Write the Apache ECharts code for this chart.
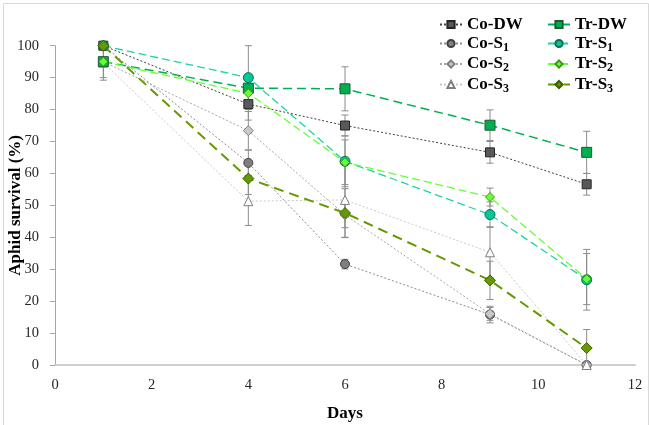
<!DOCTYPE html>
<html>
<head>
<meta charset="utf-8">
<script src="https://cdn.jsdelivr.net/npm/echarts@6/dist/echarts.min.js"></script>
<style>
html,body{margin:0;padding:0;background:#fff;}
#main{width:649px;height:425px;}
</style>
</head>
<body>
<div id="main"></div>
<script>
// ---- data ----
var days = [1, 4, 6, 9, 11];
var seriesNames = ['Co-DW', 'Co-S1', 'Co-S2', 'Co-S3', 'Tr-DW', 'Tr-S1', 'Tr-S2', 'Tr-S3'];
var coDW = [100, 81.7, 75.0, 66.6, 56.6];
var coS1 = [100, 63.3, 31.6, 15.8, 0];
var coS2 = [95, 73.4, 47.0, 16.0, 0];
var coS3 = [94.7, 51.3, 51.7, 35.3, 0];
var trDW = [95, 86.7, 86.5, 75.1, 66.6];
var trS1 = [100, 90.0, 63.8, 47.1, 26.7];
var trS2 = [95, 85.1, 63.5, 52.6, 26.9];
var trS3 = [100, 58.4, 47.6, 26.5, 5.3];
var errCoDW = [0, 5, 3.3, 3.4, 3.4];
var errCoS1 = [0, 4, 1.5, 2.6, 0];
var errCoS2 = [5, 6, 4, 2, 0];
var errCoS3 = [5.5, 7.6, 11.8, 8, 0];
var errTrDW = [0, 0, 6.9, 4.8, 6.6];
var errTrS1 = [0, 10, 8, 4, 9.5];
var errTrS2 = [0, 5, 7, 2.8, 8];
var errTrS3 = [0, 5, 7.6, 6, 5.8];
var yTicks = [0, 10, 20, 30, 40, 50, 60, 70, 80, 90, 100];
var xTicks = [0, 2, 4, 6, 8, 10, 12];

var values = [coDW, coS1, coS2, coS3, trDW, trS1, trS2, trS3];
var errs = [errCoDW, errCoS1, errCoS2, errCoS3, errTrDW, errTrS1, errTrS2, errTrS3];

var styles = [
  {line:'#404040', fill:'#595959', border:'#262626', sym:'rect', size:9, type:[2,2], w:1},
  {line:'#8c8c8c', fill:'#7f7f7f', border:'#404040', sym:'circle', size:9, type:[2,2], w:1},
  {line:'#a6a6a6', fill:'#c8c8c8', border:'#7f7f7f', sym:'diamond', size:10, type:[2,2], w:1},
  {line:'#c8c8c8', fill:'#ffffff', border:'#7f7f7f', sym:'triangle', size:9, type:[2,2], w:1},
  {line:'#00b050', fill:'#00b050', border:'#1f5a32', sym:'rect', size:10, type:[9,5], w:1.5},
  {line:'#1fd3a8', fill:'#00c896', border:'#0d6b57', sym:'circle', size:10, type:[8,4], w:1.3},
  {line:'#66ff33', fill:'#66ff33', border:'#3a9a10', sym:'diamond', size:9, type:[8,4], w:1.3},
  {line:'#669900', fill:'#669900', border:'#3d5c00', sym:'diamond', size:11, type:[10,6], w:2}
];

var font = 'Liberation Serif, Times New Roman, serif';

function legendFmt(name) {
  var m = name.match(/^(.*S)(\d)$/);
  if (m) return '{b|' + m[1] + '}{s|' + m[2] + '}';
  return '{b|' + name + '}';
}
var legendRich = {
  b: {fontFamily: font, fontWeight: 'bold', fontSize: 17, color: '#000', lineHeight: 20},
  s: {fontFamily: font, fontWeight: 'bold', fontSize: 12, color: '#000', lineHeight: 12, verticalAlign: 'bottom'}
};

var series = [];
// error bars
var errData = [];
for (var i = 0; i < values.length; i++) {
  for (var j = 0; j < days.length; j++) {
    if (errs[i][j] > 0) errData.push([days[j], values[i][j] - errs[i][j], values[i][j] + errs[i][j]]);
  }
}
series.push({
  type: 'custom',
  name: 'err',
  z: 1,
  silent: true,
  data: errData,
  encode: {x: 0, y: [1, 2]},
  renderItem: function (params, api) {
    var lo = api.coord([api.value(0), api.value(1)]);
    var hi = api.coord([api.value(0), api.value(2)]);
    var hw = 3.5;
    var st = {stroke: '#8c8c8c', lineWidth: 1};
    return {
      type: 'group',
      children: [
        {type: 'line', shape: {x1: lo[0], y1: lo[1], x2: hi[0], y2: hi[1]}, style: st},
        {type: 'line', shape: {x1: lo[0] - hw, y1: lo[1], x2: lo[0] + hw, y2: lo[1]}, style: st},
        {type: 'line', shape: {x1: hi[0] - hw, y1: hi[1], x2: hi[0] + hw, y2: hi[1]}, style: st}
      ]
    };
  }
});
for (var k = 0; k < values.length; k++) {
  var s = styles[k];
  var d = [];
  for (var j2 = 0; j2 < days.length; j2++) d.push([days[j2], values[k][j2]]);
  series.push({
    type: 'line',
    name: seriesNames[k],
    data: d,
    z: 3 + (k < 4 ? 0 : 1),
    symbol: s.sym,
    symbolSize: s.size,
    showAllSymbol: true,
    lineStyle: {color: s.line, width: s.w, type: s.type},
    itemStyle: {color: s.fill, borderColor: s.border, borderWidth: 1},
    emphasis: {disabled: true},
    animation: false
  });
}

var chart = echarts.init(document.getElementById('main'), null, {renderer: 'canvas'});
chart.setOption({
  animation: false,
  backgroundColor: '#fff',
  graphic: [{
    type: 'rect', left: 1, top: 1, shape: {width: 645, height: 422},
    style: {fill: 'none', stroke: '#d9d9d9', lineWidth: 1}, silent: true
  }],
  grid: {left: 55, right: 14, top: 45.7, bottom: 60, containLabel: false, outerBoundsMode: 'none'},
  legend: [{
    data: seriesNames.slice(0, 4),
    orient: 'vertical',
    left: 434, top: 11,
    itemWidth: 22, itemHeight: 9, itemGap: 2,
    formatter: legendFmt,
    textStyle: {rich: legendRich}
  }, {
    data: seriesNames.slice(4),
    orient: 'vertical',
    left: 542, top: 11,
    itemWidth: 22, itemHeight: 9, itemGap: 2,
    formatter: legendFmt,
    textStyle: {rich: legendRich}
  }],
  xAxis: {
    type: 'value', min: xTicks[0], max: xTicks[xTicks.length - 1], interval: 2,
    name: 'Days', nameLocation: 'middle', nameGap: 40, nameMoveOverlap: false,
    nameTextStyle: {fontFamily: font, fontWeight: 'bold', fontSize: 17, color: '#000'},
    axisLine: {show: true, onZero: false, lineStyle: {color: '#d0d0d0', width: 2}},
    axisTick: {show: false},
    splitLine: {show: false},
    axisLabel: {fontFamily: font, fontSize: 14.5, color: '#262626', margin: 13}
  },
  yAxis: {
    type: 'value', min: yTicks[0], max: yTicks[yTicks.length - 1], interval: 10,
    name: 'Aphid survival (%)', nameLocation: 'middle', nameGap: 31, nameMoveOverlap: false,
    nameTextStyle: {fontFamily: font, fontWeight: 'bold', fontSize: 17, color: '#000'},
    axisLine: {show: true, lineStyle: {color: '#a6a6a6', width: 1}},
    axisTick: {show: true, length: 5, lineStyle: {color: '#a6a6a6'}},
    splitLine: {show: false},
    axisLabel: {fontFamily: font, fontSize: 14.5, color: '#262626', margin: 16}
  },
  series: series
});
</script>
</body>
</html>
